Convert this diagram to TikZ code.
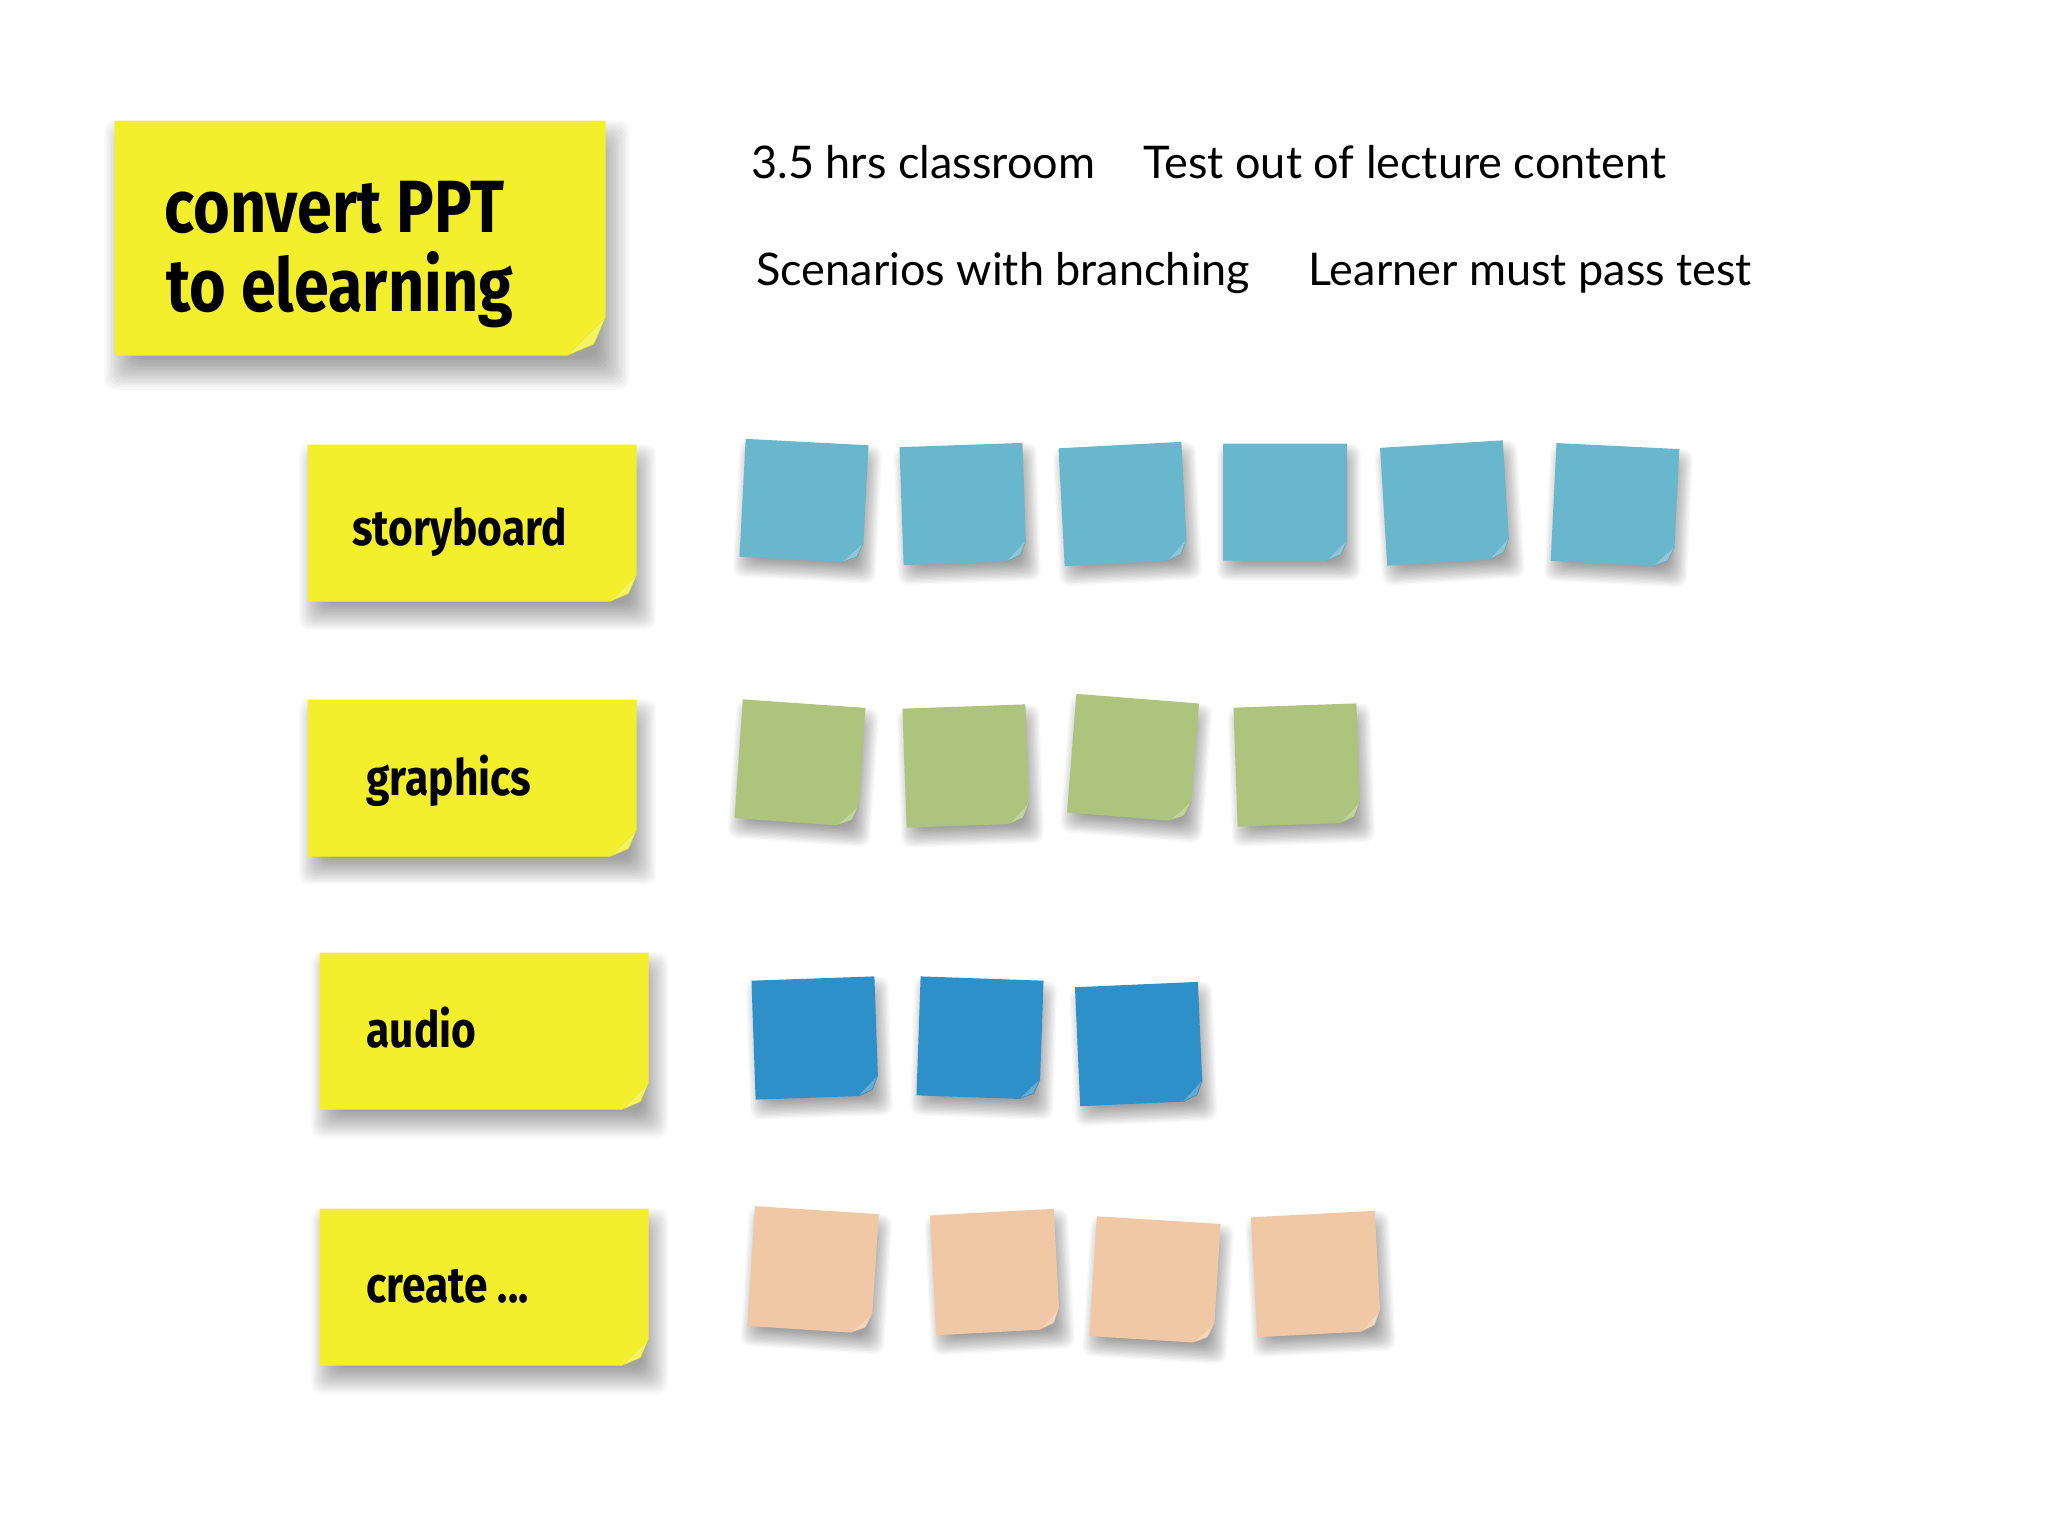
\documentclass[tikz,border=0pt]{standalone}
\usepackage{fontspec}
\setmainfont{Lato}
\newfontfamily\handfont[FakeStretch=0.85]{Fira Sans}
\definecolor{ylw}{HTML}{F3EF2C}
\definecolor{lblue}{HTML}{69B7CC}
\definecolor{grn}{HTML}{ADC47C}
\definecolor{dblue}{HTML}{2E90C9}
\definecolor{peach}{HTML}{F0C8A5}
\tikzset{
  shadowlayer/.style={fill=black, opacity=0.028, rounded corners=5pt},
  handtxt/.style={font=\handfont\bfseries\fontsize{25}{30}\selectfont, anchor=base west, inner sep=0pt},
  titletxt/.style={font=\handfont\bfseries\fontsize{37}{42}\selectfont, anchor=base west, inner sep=0pt},
  bodytxt/.style={font=\fontsize{22.5}{27}\selectfont, anchor=base west, inner sep=0pt},
}
% name, cx, cy, w, h, angle, colour, fold, shadow spread
\newcommand\stickynote[9]{%
  \begin{scope}[shift={(#2,#3)},rotate=#6]
    \foreach \k in {0,...,14}{%
      \path[shadowlayer] (-#4/2+0.4*#9-#9+\k*#9/7.5, -#5/2+#9-#9+\k*#9/7.5) rectangle (#4/2+0.4*#9+#9-\k*#9/7.5, #5/2+#9+#9-\k*#9/7.5);
    }
    \path[fill=#7] (-#4/2,-#5/2) -- (#4/2,-#5/2) -- (#4/2,#5/2-#8) -- (#4/2-#8,#5/2) -- (-#4/2,#5/2) -- cycle;
    \fill[#7!75!white] (#4/2,#5/2-#8) -- (#4/2-#8,#5/2) -- (#4/2-0.3*#8,#5/2-0.3*#8) -- cycle;
    \draw[#7!80!black, line width=0.4pt, opacity=0.5] (#4/2,#5/2-#8) -- (#4/2-0.3*#8,#5/2-0.3*#8) -- (#4/2-#8,#5/2);
    \node[inner sep=0pt, minimum width=#4*0.5pt, minimum height=#5*0.5pt] (#1) at (0,0) {};
  \end{scope}}
\begin{document}
\begin{tikzpicture}[x=0.5pt,y=-0.5pt]
\useasboundingbox[fill=white] (0,0) rectangle (2048,1536);

% title note
\stickynote{title}{360}{238}{491}{235}{0}{ylw}{38}{17}
\node[titletxt] (t1) at (164,232) {convert PPT};
\node[titletxt] (t2) at (166,311) {to elearning};

% header texts
\node[bodytxt] (h1) at (751,178) {3.5 hrs classroom};
\node[bodytxt] (h2) at (1143,178) {Test out of lecture content};
\node[bodytxt] (h3) at (756,285) {Scenarios with branching};
\node[bodytxt] (h4) at (1308,285) {Learner must pass test};

% row labels
\stickynote{lsb}{472}{523}{329}{157}{0}{ylw}{26}{14}
\node[handtxt] (tsb) at (352,545) {storyboard};
\stickynote{lgr}{472}{778}{329}{157}{0}{ylw}{26}{14}
\node[handtxt] (tgr) at (366,795) {graphics};
\stickynote{lau}{484}{1031}{329}{157}{0}{ylw}{26}{14}
\node[handtxt] (tau) at (366,1047) {audio};
\stickynote{lcr}{484}{1287}{329}{157}{0}{ylw}{26}{14}
\node[handtxt] (tcr) at (366,1302) {create ...};

% storyboard notes
\stickynote{b1}{804}{501}{123}{118}{-3}{lblue}{20}{10}
\stickynote{b2}{963}{504}{123}{118}{2}{lblue}{20}{10}
\stickynote{b3}{1123}{504}{123}{118}{3}{lblue}{20}{10}
\stickynote{b4}{1285}{502}{124}{117}{0}{lblue}{20}{10}
\stickynote{b5}{1445}{503}{123}{118}{3.5}{lblue}{20}{10}
\stickynote{b6}{1615}{505}{123}{118}{-2.8}{lblue}{20}{10}

% graphics notes
\stickynote{g1}{800}{763}{123}{119}{-4}{grn}{20}{10}
\stickynote{g2}{966}{766}{123}{119}{2}{grn}{20}{10}
\stickynote{g3}{1133}{758}{123}{119}{-4.5}{grn}{20}{10}
\stickynote{g4}{1297}{765}{123}{119}{2}{grn}{20}{10}

% audio notes
\stickynote{a1}{815}{1038}{123}{119}{2}{dblue}{20}{10}
\stickynote{a2}{980}{1038}{123}{119}{-2}{dblue}{20}{10}
\stickynote{a3}{1139}{1044}{123}{119}{2.5}{dblue}{20}{10}

% create notes
\stickynote{c1}{813}{1270}{124}{120}{-3.7}{peach}{20}{10}
\stickynote{c2}{995}{1272}{124}{120}{3}{peach}{20}{10}
\stickynote{c3}{1155}{1280}{124}{120}{-3.5}{peach}{20}{10}
\stickynote{c4}{1316}{1274}{124}{120}{3}{peach}{20}{10}
\end{tikzpicture}
\end{document}
